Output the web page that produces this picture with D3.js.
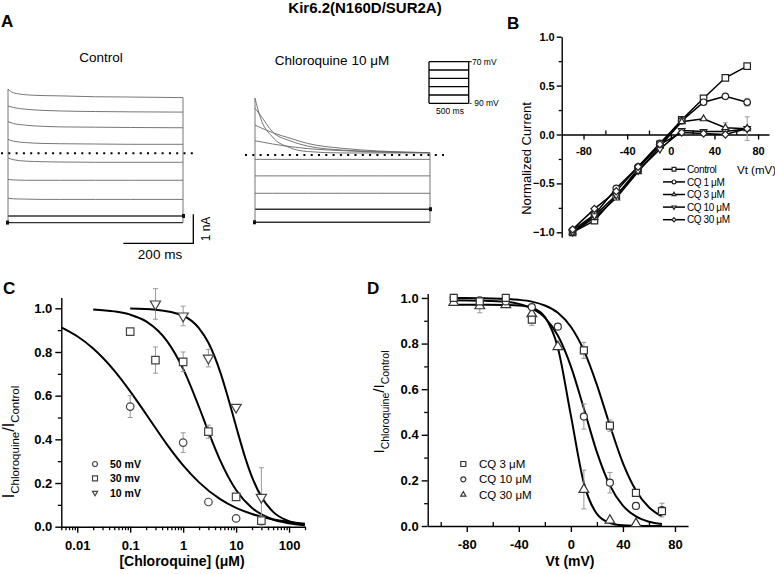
<!DOCTYPE html>
<html>
<head>
<meta charset="utf-8">
<script src="https://cdn.jsdelivr.net/npm/d3@7"></script>
<style>
  body { margin: 0; background: #fff; }
  text { font-family: "Liberation Sans", Arial, Helvetica, sans-serif; }
</style>
</head>
<body>
<div id="fig"></div>
<script>
// ---------- data ----------
// Panel A: current traces (nA) sampled at these times (ms)
const traceTimes = [0, 15, 50, 100, 150, 250, 350, 500];
const controlTraces = [
  [2.21, 2.09, 2.02, 1.99, 1.98, 1.95, 1.94, 1.92],
  [1.63, 1.58, 1.52, 1.48, 1.46, 1.44, 1.43, 1.42],
  [1.09, 1.03, 0.97, 0.93, 0.91, 0.90, 0.89, 0.88],
  [0.48, 0.42, 0.37, 0.34, 0.33, 0.32, 0.31, 0.31],
  [-0.16, -0.22, -0.27, -0.29, -0.30, -0.31, -0.31, -0.31],
  [-0.90, -0.92, -0.93, -0.93, -0.93, -0.93, -0.93, -0.93],
  [-1.55, -1.57, -1.58, -1.59, -1.59, -1.59, -1.59, -1.59],
  [-2.16, -2.16, -2.16, -2.16, -2.16, -2.16, -2.16, -2.16],
  [-2.39, -2.39, -2.39, -2.39, -2.39, -2.39, -2.39, -2.39]
];
const cqTraces = [
  [1.96, 1.30, 0.62, 0.25, 0.12, 0.07, 0.07, 0.07],
  [1.61, 1.38, 0.80, 0.49, 0.31, 0.17, 0.12, 0.08],
  [1.03, 0.95, 0.77, 0.58, 0.40, 0.23, 0.14, 0.08],
  [0.49, 0.46, 0.38, 0.29, 0.22, 0.15, 0.10, 0.08],
  [-0.15, -0.15, -0.15, -0.15, -0.15, -0.15, -0.15, -0.15],
  [-0.72, -0.72, -0.72, -0.72, -0.72, -0.72, -0.72, -0.72],
  [-1.32, -1.32, -1.32, -1.32, -1.32, -1.32, -1.32, -1.32],
  [-1.87, -1.87, -1.87, -1.87, -1.87, -1.87, -1.87, -1.87],
  [-2.32, -2.32, -2.32, -2.32, -2.32, -2.32, -2.32, -2.32]
];
const protocolSteps = [-90, -58, -26, 6, 38, 70];

// Panel B: normalized I-V
const bVt = [-90, -70, -50, -30, -10, 10, 30, 50, 70];
const bNames = ["Control", "CQ 1 μM", "CQ 3 μM", "CQ 10 μM", "CQ 30 μM"];
const bControl = [-1.00, -0.88, -0.63, -0.35, -0.10, 0.15, 0.37, 0.58, 0.70];
const bCQ1 = [-0.98, -0.82, -0.55, -0.33, -0.09, 0.14, 0.33, 0.39, 0.33];
const bCQ3 = [-1.00, -0.85, -0.65, -0.38, -0.12, 0.13, 0.16, 0.07, 0.06];
const bCQ10 = [-1.00, -0.83, -0.62, -0.37, -0.15, 0.04, 0.03, 0.03, 0.06];
const bCQ30 = [-0.97, -0.76, -0.58, -0.33, -0.10, 0.02, 0.01, 0.00, 0.06];
const bErrCQ1 = [0, 0, 0, 0, 0, 0, 0, 0, 0.04];
const bErrCQ3 = [0, 0, 0, 0, 0, 0, 0, 0.05, 0.12];

// Panel C: concentration-response
const c50Conc = [0.1, 1, 3, 10];
const c50Val = [0.55, 0.385, 0.113, 0.038];
const c50Err = [0.05, 0.045, 0.01, 0.012];
const c30Conc = [0.1, 0.3, 1, 3, 10, 30];
const c30Val = [0.893, 0.763, 0.755, 0.435, 0.137, 0.028];
const c30Err = [0, 0.06, 0.045, 0.03, 0.01, 0.02];
const c10Conc = [0.3, 1, 3, 10, 30];
const c10Val = [1.02, 0.965, 0.772, 0.547, 0.135];
const c10Err = [0.07, 0.045, 0.04, 0.01, 0.135];
const cFit50Conc = [0.005, 0.01, 0.02, 0.05, 0.1, 0.2, 0.5, 1, 2, 5, 10, 20, 50, 100, 200];
const cFit50Val = [0.913, 0.872, 0.816, 0.715, 0.620, 0.515, 0.375, 0.281, 0.203, 0.126, 0.086, 0.058, 0.033, 0.022, 0.014];
const cFit30Conc = [0.02, 0.05, 0.1, 0.2, 0.5, 1, 2, 3, 5, 10, 20, 50, 100, 200];
const cFit30Val = [0.995, 0.986, 0.971, 0.940, 0.849, 0.723, 0.547, 0.435, 0.304, 0.168, 0.086, 0.033, 0.016, 0.007];
const cFit10Conc = [0.1, 0.3, 1, 2, 3, 5, 7, 10, 15, 20, 30, 50, 100, 200];
const cFit10Val = [0.999, 0.994, 0.966, 0.908, 0.842, 0.709, 0.593, 0.459, 0.313, 0.227, 0.137, 0.068, 0.025, 0.009];
const cLegend = ["50 mV", "30 mv", "10 mV"];

// Panel D: voltage dependence of block
const dVt = [-90, -70, -50, -30, -10, 10, 30, 50, 70];
const dCQ3 = [1.0, 0.985, 1.0, 0.905, null, 0.77, 0.44, 0.145, 0.065];
const dCQ3Err = [0, 0, 0, 0.025, 0, 0.035, 0.025, 0.015, 0];
const dCQ10 = [1.0, 0.99, 0.985, 0.96, 0.874, 0.48, 0.19, 0.088, 0.07];
const dCQ10Err = [0, 0, 0, 0, 0, 0.055, 0.045, 0.015, 0.03];
const dCQ30 = [0.98, 0.965, 0.97, 0.93, 0.786, 0.16, 0.025, 0.01, null];
const dCQ30Err = [0, 0.03, 0, 0, 0, 0.085, 0, 0, 0];
const dFitVt = [-90, -70, -50, -40, -30, -20, -10, 0, 10, 20, 30, 40, 50, 60, 70];
const dFit3 = [1.0, 0.999, 0.996, 0.992, 0.984, 0.967, 0.935, 0.874, 0.770, 0.619, 0.441, 0.276, 0.156, 0.082, 0.042];
const dFit10 = [0.990, 0.988, 0.983, 0.974, 0.954, 0.914, 0.835, 0.700, 0.515, 0.324, 0.178, 0.089, 0.042, 0.019, 0.009];
const dFit30 = [0.970, 0.970, 0.969, 0.967, 0.957, 0.917, 0.782, 0.485, 0.188, 0.053, 0.013, 0.003, 0.001, 0.0, 0.0];
const dLegend = ["CQ 3 μM", "CQ 10 μM", "CQ 30 μM"];

// ---------- svg ----------
const width = 775, height = 574;
const svg = d3.select("#fig").append("svg")
  .attr("width", width).attr("height", height);
svg.append("rect").attr("width", width).attr("height", height).attr("fill", "#fff");

function label(x, y, txt, size, weight, anchor) {
  return svg.append("text").attr("x", x).attr("y", y)
    .attr("font-size", size).attr("font-weight", weight || "normal")
    .attr("text-anchor", anchor || "start").text(txt);
}

function styleAxis(g, size, weight) {
  g.select(".domain").attr("stroke", "#000").attr("stroke-width", 1.4);
  g.selectAll(".tick line").attr("stroke", "#000").attr("stroke-width", 1.4);
  g.selectAll("text").attr("font-size", size).attr("font-weight", weight)
    .attr("font-family", '"Liberation Sans", Arial, sans-serif').attr("fill", "#000");
}
function minorAxis(axis, scale, vals, size, tx, ty) {
  const g = svg.append("g").attr("transform", `translate(${tx},${ty})`)
    .call(axis(scale).tickValues(vals).tickSize(size).tickFormat(""));
  g.select(".domain").remove();
  g.selectAll(".tick line").attr("stroke", "#000").attr("stroke-width", 1.3);
}

const symbols = {
  square: d3.symbol().type(d3.symbolSquare),
  circle: d3.symbol().type(d3.symbolCircle),
  up: d3.symbol().type(d3.symbolTriangle),
  down: d3.symbol().type(d3.symbolTriangle),
  diamond: d3.symbol().type(d3.symbolSquare)
};
function drawSymbol(g, kind, x, y, s, color) {
  const sizes = { square: s * s, circle: Math.PI * s * s / 4, up: s * s * 0.45, down: s * s * 0.45, diamond: s * s * 0.6 };
  let rot = 0;
  if (kind === "down") rot = 180;
  if (kind === "diamond") rot = 45;
  g.append("path").attr("d", symbols[kind].size(sizes[kind])())
    .attr("transform", `translate(${x},${y}) rotate(${rot})`)
    .attr("fill", "#fff").attr("stroke", color).attr("stroke-width", 1.2);
}
function errBar(g, x, y0, y1) {
  g.append("line").attr("x1", x).attr("x2", x).attr("y1", y0).attr("y2", y1)
    .attr("stroke", "#999").attr("stroke-width", 1);
  [y0, y1].forEach(y => g.append("line").attr("x1", x - 2.5).attr("x2", x + 2.5)
    .attr("y1", y).attr("y2", y).attr("stroke", "#999").attr("stroke-width", 1));
}

// ---------- title and panel letters ----------
label(365, 13, "Kir6.2(N160D/SUR2A)", 15, "bold", "middle");
label(1, 27, "A", 17, "bold");
label(507, 29, "B", 17, "bold");
label(3, 294, "C", 17, "bold");
label(367, 294, "D", 17, "bold");

// ---------- Panel A ----------
const tL = d3.scaleLinear([0, 500], [8, 183]);
const tR = d3.scaleLinear([0, 500], [255, 430]);
const iL = d3.scaleLinear([0, 1], [153.3, 124.3]);
const iR = d3.scaleLinear([0, 1], [155, 126]);

function drawTraces(traces, tS, iS) {
  const line = d3.line().x((d, i) => tS(traceTimes[i])).y(d => iS(d)).curve(d3.curveMonotoneX);
  const g = svg.append("g");
  traces.forEach((tr, k) => {
    g.append("path").attr("d", line(tr)).attr("fill", "none")
      .attr("stroke", k >= 7 ? "#333" : "#666").attr("stroke-width", k >= 7 ? 1.4 : 0.9);
  });
  const starts = traces.map(t => t[0]), ends = traces.map(t => t[t.length - 1]);
  g.append("line").attr("x1", tS(0)).attr("x2", tS(0))
    .attr("y1", iS(d3.max(starts))).attr("y2", iS(d3.min(starts)))
    .attr("stroke", "#666").attr("stroke-width", 0.9);
  g.append("line").attr("x1", tS(500)).attr("x2", tS(500))
    .attr("y1", iS(d3.max(ends))).attr("y2", iS(d3.min(ends)))
    .attr("stroke", "#666").attr("stroke-width", 0.9);
  g.append("rect").attr("x", tS(0) - 2).attr("y", iS(d3.min(starts)) - 2).attr("width", 3).attr("height", 4).attr("fill", "#111");
  g.append("rect").attr("x", tS(500) - 1).attr("y", iS(traces[7][7]) - 2).attr("width", 3).attr("height", 4).attr("fill", "#111");
}
drawTraces(controlTraces, tL, iL);
drawTraces(cqTraces, tR, iR);

// zero-current dotted lines
svg.append("line").attr("x1", 1).attr("x2", 198).attr("y1", iL(0)).attr("y2", iL(0))
  .attr("stroke", "#000").attr("stroke-width", 2).attr("stroke-dasharray", "2,5.3");
svg.append("line").attr("x1", 245).attr("x2", 444).attr("y1", iR(0)).attr("y2", iR(0))
  .attr("stroke", "#000").attr("stroke-width", 2).attr("stroke-dasharray", "2,5.3");

label(101, 62, "Control", 13.5, "normal", "middle");
label(332, 65, "Chloroquine 10 μM", 13.5, "normal", "middle");

// scale bar: 200 ms, 1 nA
const barX1 = 193.3, barY = 243.3;
const barLen = tL(200) - tL(0), barH = iL(0) - iL(1);
svg.append("path").attr("d", `M${barX1 - barLen},${barY}H${barX1}V${barY - barH}`)
  .attr("fill", "none").attr("stroke", "#000").attr("stroke-width", 1.3);
label(160, 259, "200 ms", 13.5, "normal", "middle");
svg.append("text").attr("transform", `translate(210,229) rotate(-90)`)
  .attr("font-size", 12).attr("text-anchor", "middle").text("1 nA");

// voltage protocol inset
const pX = d3.scaleLinear([0, 500], [429, 468.7]);
const pY = d3.scaleLinear([-90, 70], [103.3, 61.7]);
const pg = svg.append("g");
protocolSteps.forEach(v => pg.append("line").attr("x1", pX(0)).attr("x2", pX(500))
  .attr("y1", pY(v)).attr("y2", pY(v)).attr("stroke", "#000").attr("stroke-width", 1.3));
[0, 500].forEach(t => pg.append("line").attr("x1", pX(t)).attr("x2", pX(t))
  .attr("y1", pY(70)).attr("y2", pY(-90)).attr("stroke", "#000").attr("stroke-width", 1.3));
pg.append("line").attr("x1", pX(500)).attr("x2", pX(500) + 3).attr("y1", pY(70)).attr("y2", pY(70)).attr("stroke", "#000");
label(472, 64.5, "70 mV", 8.5);
label(469, 106, "- 90 mV", 8.5);
label(450, 113.5, "500 ms", 8.5, "normal", "middle");

// ---------- Panel B ----------
const xB = d3.scaleLinear([-100, 90], [561.7, 769]);
const yB = d3.scaleLinear([-1.05, 1.0], [237.2, 36.7]);

const gBy = svg.append("g").attr("transform", `translate(${xB(-100)},0)`)
  .call(d3.axisLeft(yB).tickValues([-1, -0.5, 0, 0.5, 1]).tickSize(5).tickSizeOuter(0)
    .tickPadding(2).tickFormat(d3.format(".1f")));
styleAxis(gBy, 11, "bold");
minorAxis(d3.axisLeft, yB, [-0.75, -0.25, 0.25, 0.75], 3, xB(-100), 0);

const gBx = svg.append("g").attr("transform", `translate(0,${yB(0)})`)
  .call(d3.axisBottom(xB).tickValues([-80, -40, 0, 40, 80]).tickSize(5).tickSizeOuter(0).tickPadding(8));
styleAxis(gBx, 11, "bold");
gBx.selectAll("text").text(d => d);
minorAxis(d3.axisBottom, xB, [-60, -20, 20, 60], -4, 0, yB(0));

svg.append("text").attr("transform", `translate(531,${yB(0) + 24}) rotate(-90)`)
  .attr("font-size", 13).attr("text-anchor", "middle").text("Normalized Current");
label(737, 174, "Vt (mV)", 11.5);

const bSeries = [bControl, bCQ1, bCQ3, bCQ10, bCQ30];
const bSyms = ["square", "circle", "up", "down", "diamond"];
const bErrs = [null, bErrCQ1, bErrCQ3, null, null];
const gB = svg.append("g");
const bLine = d3.line().x((d, i) => xB(bVt[i])).y(d => yB(d));
bSeries.forEach((s, k) => {
  if (bErrs[k]) bErrs[k].forEach((e, i) => { if (e > 0) errBar(gB, xB(bVt[i]), yB(s[i] + e), yB(s[i] - e)); });
});
bSeries.forEach(s => gB.append("path").attr("d", bLine(s)).attr("fill", "none")
  .attr("stroke", "#000").attr("stroke-width", 1.5));
bSeries.forEach((s, k) => s.forEach((v, i) => drawSymbol(gB, bSyms[k], xB(bVt[i]), yB(v), 6.5, "#222")));

// legend B
bNames.forEach((n, k) => {
  const y = 169.3 + k * 12.6;
  gB.append("line").attr("x1", 663).attr("x2", 685).attr("y1", y).attr("y2", y)
    .attr("stroke", "#000").attr("stroke-width", 1.5);
  drawSymbol(gB, bSyms[k], 674, y, 3.8, "#222");
  gB.append("text").attr("x", 687).attr("y", y + 3.6).attr("font-size", 10)
    .attr("letter-spacing", -0.4).text(n);
});

// ---------- Panel C ----------
const xC = d3.scaleLog([0.005, 200], [61.3, 305]);
const yC = d3.scaleLinear([0, 1.05], [526.7, 297.4]);

const gCy = svg.append("g").attr("transform", `translate(${xC.range()[0]},0)`)
  .call(d3.axisLeft(yC).tickValues([0, 0.2, 0.4, 0.6, 0.8, 1.0]).tickSize(6).tickSizeOuter(0)
    .tickPadding(3).tickFormat(d3.format(".1f")));
styleAxis(gCy, 13, "bold");
minorAxis(d3.axisLeft, yC, [0.1, 0.3, 0.5, 0.7, 0.9], 3.5, xC.range()[0], 0);

const cMajor = [0.01, 0.1, 1, 10, 100];
const cMinor = [];
[0.001, 0.01, 0.1, 1, 10, 100].forEach(dec => d3.range(2, 10).forEach(m => {
  const v = dec * m; if (v >= 0.005 && v <= 200) cMinor.push(v);
}));
const gCx = svg.append("g").attr("transform", `translate(0,${yC(0)})`)
  .call(d3.axisBottom(xC).tickValues(cMajor).tickSize(6).tickSizeOuter(0).tickPadding(8)
    .tickFormat(d => String(d)));
styleAxis(gCx, 13, "bold");
minorAxis(d3.axisBottom, xC, cMinor, 3.5, 0, yC(0));

label(182, 566, "[Chloroquine] (μM)", 14, "bold", "middle");
const cyl = svg.append("text").attr("transform", `translate(14,442) rotate(-90)`)
  .attr("text-anchor", "middle").attr("font-size", 16);
cyl.append("tspan").text("I");
cyl.append("tspan").attr("font-size", 11.5).attr("dy", 5).text("Chloroquine");
cyl.append("tspan").attr("dy", -5).text("/I");
cyl.append("tspan").attr("font-size", 11.5).attr("dy", 5).text("Control");

const gC = svg.append("g");
const cLine = d3.line().x(d => xC(d[0])).y(d => yC(d[1])).curve(d3.curveMonotoneX);
[[cFit50Conc, cFit50Val], [cFit30Conc, cFit30Val], [cFit10Conc, cFit10Val]].forEach(([xs, ys]) => {
  gC.append("path").attr("d", cLine(xs.map((x, i) => [x, ys[i]]))).attr("fill", "none")
    .attr("stroke", "#000").attr("stroke-width", 2);
});
const cSets = [[c50Conc, c50Val, c50Err, "circle"], [c30Conc, c30Val, c30Err, "square"], [c10Conc, c10Val, c10Err, "down"]];
cSets.forEach(([xs, ys, es]) => xs.forEach((x, i) => {
  if (es[i] > 0) errBar(gC, xC(x), yC(ys[i] + es[i]), yC(ys[i] - es[i]));
}));
cSets.forEach(([xs, ys, es, sym]) => xs.forEach((x, i) =>
  drawSymbol(gC, sym, xC(x), yC(ys[i]), sym === "down" ? 10 : 7.5, "#444")));
cLegend.forEach((n, k) => {
  const y = 464 + k * 14.4;
  drawSymbol(gC, cSets[k][3], 95, y, 5, "#444");
  gC.append("text").attr("x", 110).attr("y", y + 4).attr("font-size", 10.5)
    .attr("font-weight", "bold").text(n);
});

// ---------- Panel D ----------
const xD = d3.scaleLinear([-110, 90], [427.7, 688]);
const yD = d3.scaleLinear([0, 1.02], [526, 293.4]);

const gDy = svg.append("g").attr("transform", `translate(${xD(-110)},0)`)
  .call(d3.axisLeft(yD).tickValues([0, 0.2, 0.4, 0.6, 0.8, 1.0]).tickSize(6).tickSizeOuter(0)
    .tickPadding(3).tickFormat(d3.format(".1f")));
styleAxis(gDy, 13, "bold");
minorAxis(d3.axisLeft, yD, [0.1, 0.3, 0.5, 0.7, 0.9], 3.5, xD(-110), 0);
const gDx = svg.append("g").attr("transform", `translate(0,${yD(0)})`)
  .call(d3.axisBottom(xD).tickValues([-80, -40, 0, 40, 80]).tickSize(6).tickSizeOuter(0).tickPadding(8));
styleAxis(gDx, 13, "bold");
gDx.selectAll("text").text(d => d);
minorAxis(d3.axisBottom, xD, [-100, -60, -20, 20, 60], -4, 0, yD(0));

label(570, 566, "Vt (mV)", 14, "bold", "middle");
const dyl = svg.append("text").attr("transform", `translate(384,402) rotate(-90)`)
  .attr("text-anchor", "middle").attr("font-size", 15);
dyl.append("tspan").text("I");
dyl.append("tspan").attr("font-size", 10.5).attr("dy", 5).text("Chloroquine");
dyl.append("tspan").attr("dy", -5).text("/I");
dyl.append("tspan").attr("font-size", 10.5).attr("dy", 5).text("Control");

const gD = svg.append("g");
const dLine = d3.line().x((d, i) => xD(dFitVt[i])).y(d => yD(d)).curve(d3.curveMonotoneX);
[dFit3, dFit10, dFit30].forEach(f => gD.append("path").attr("d", dLine(f)).attr("fill", "none")
  .attr("stroke", "#000").attr("stroke-width", 2));
const dSets = [[dCQ30, dCQ30Err, "up"], [dCQ10, dCQ10Err, "circle"], [dCQ3, dCQ3Err, "square"]];
dSets.forEach(([ys, es]) => ys.forEach((v, i) => {
  if (v !== null && es[i] > 0) errBar(gD, xD(dVt[i]), yD(v + es[i]), yD(v - es[i]));
}));
dSets.forEach(([ys, es, sym]) => ys.forEach((v, i) => {
  if (v !== null) drawSymbol(gD, sym, xD(dVt[i]), yD(v), sym === "up" ? 9.5 : 7, "#333");
}));
const dLegSyms = ["square", "circle", "up"];
dLegend.forEach((n, k) => {
  const y = 464 + k * 15.3;
  drawSymbol(gD, dLegSyms[k], 463.3, y, 5, "#333");
  gD.append("text").attr("x", 479).attr("y", y + 4).attr("font-size", 11.5).text(n);
});
</script>
</body>
</html>
